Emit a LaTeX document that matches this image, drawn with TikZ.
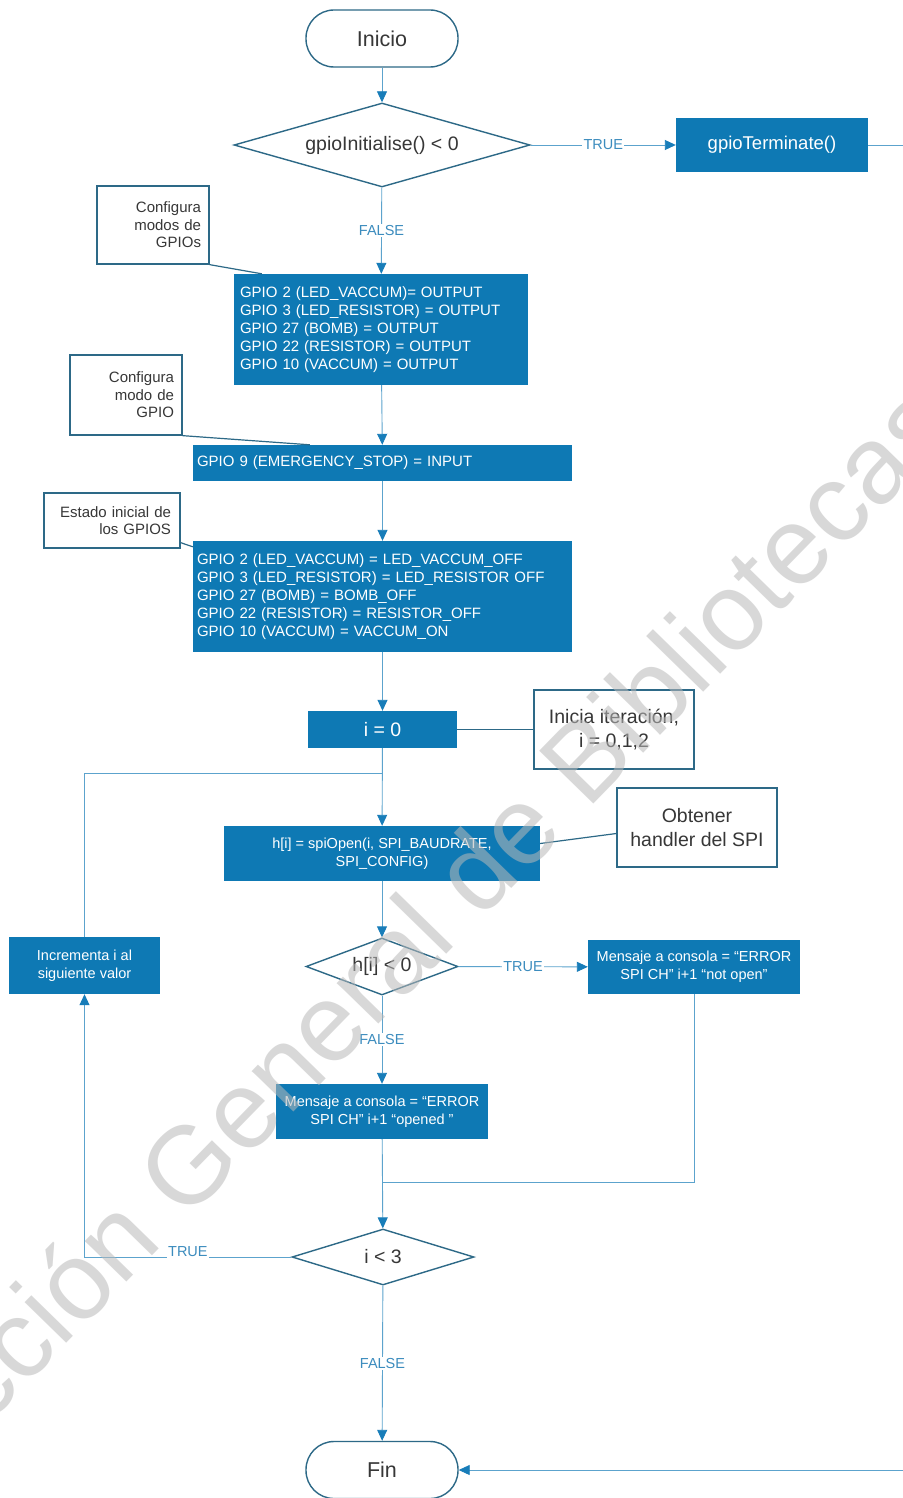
\documentclass[tikz,border=0pt]{standalone}
\usepackage{fontspec}
\setmainfont{Liberation Sans}
\usetikzlibrary{shapes.geometric,arrows.meta,calc}
\definecolor{boxblue}{RGB}{14,121,180}
\definecolor{linec}{RGB}{92,163,205}
\definecolor{tipc}{RGB}{24,125,185}
\definecolor{darkc}{RGB}{45,105,135}
\definecolor{lblc}{RGB}{60,140,190}
\definecolor{txtc}{RGB}{55,55,55}
\definecolor{wmc}{RGB}{185,185,185}
\tikzset{
 proc/.style={rectangle, fill=boxblue, text=white, inner sep=0pt, font=\fontsize{15}{18}\selectfont},
 term/.style={rectangle, rounded corners=28pt, draw=darkc, line width=1.4pt, fill=white, text=txtc, minimum width=152pt, minimum height=57pt, font=\fontsize{21.5}{24}\selectfont},
 dec/.style={diamond, draw=darkc, line width=1.4pt, fill=white, text=txtc, inner sep=0pt, font=\fontsize{19.5}{22}\selectfont},
 note/.style={rectangle, draw=darkc, line width=1.3pt, fill=white, text=txtc, inner sep=0pt, font=\fontsize{15}{17.5}\selectfont},
 bignote/.style={note, font=\fontsize{19.5}{24}\selectfont, align=center, minimum width=160pt, minimum height=79pt},
 conn/.style={draw=linec, line width=0.9pt},
 arr/.style={conn, -{Triangle[width=10pt,length=11pt,color=tipc]}},
 lbl/.style={fill=white, text=lblc, inner sep=1.5pt, font=\fontsize{14.5}{16}\selectfont},
 notelink/.style={draw=darkc, line width=1.2pt},
 wmark/.style={text=wmc, text opacity=0.55, inner sep=0pt},
}
\begin{document}
\begin{tikzpicture}[x=1pt,y=-1pt]
\useasboundingbox (0,0) rectangle (902,1498);
\fill[white] (0,0) rectangle (902,1498);

% main flow
\node[term] (inicio) at (382,38.5) {Inicio};
\node[dec, aspect=3.5, minimum width=296pt, minimum height=84pt] (d1) at (382,145) {gpioInitialise() < 0};
\node[proc, minimum width=192pt, minimum height=54pt, font=\fontsize{18.5}{22}\selectfont] (gpioT) at (772,145) {gpioTerminate()};
\node[proc, minimum width=294pt, minimum height=111pt, text width=282pt, align=left] (box1) at (381,329.5)
 {GPIO 2 (LED\_VACCUM)= OUTPUT\\GPIO 3 (LED\_RESISTOR) = OUTPUT\\GPIO 27 (BOMB) = OUTPUT\\GPIO 22 (RESISTOR) = OUTPUT\\GPIO 10 (VACCUM) = OUTPUT};
\node[proc, minimum width=379pt, minimum height=36pt, text width=371pt, align=left] (box2) at (382.5,463)
 {GPIO 9 (EMERGENCY\_STOP) = INPUT};
\node[proc, minimum width=379pt, minimum height=111pt, text width=371pt, align=left] (box3) at (382.5,596.5)
 {GPIO 2 (LED\_VACCUM) = LED\_VACCUM\_OFF\\GPIO 3 (LED\_RESISTOR) = LED\_RESISTOR OFF\\GPIO 27 (BOMB) = BOMB\_OFF\\GPIO 22 (RESISTOR) = RESISTOR\_OFF\\GPIO 10 (VACCUM) = VACCUM\_ON};
\node[proc, minimum width=149pt, minimum height=37pt, font=\fontsize{19.5}{22}\selectfont] (i0) at (382.5,729.5) {i = 0};
\node[proc, minimum width=316pt, minimum height=55pt, align=center, font=\fontsize{14.5}{18}\selectfont] (spi) at (382,853.5)
 {h[i] = spiOpen(i, SPI\_BAUDRATE,\\SPI\_CONFIG)};
\node[dec, aspect=2.67, minimum width=152pt, minimum height=57pt] (d2) at (382,966.5) {h[i] < 0};
\node[proc, minimum width=212pt, minimum height=54pt, align=center, font=\fontsize{14.5}{18}\selectfont] (notopen) at (694,967)
 {Mensaje a consola = “ERROR\\SPI CH” i+1 “not open”};
\node[proc, minimum width=212pt, minimum height=55pt, align=center, font=\fontsize{14.5}{18}\selectfont] (opened) at (382,1111.5)
 {Mensaje a consola = “ERROR\\SPI CH” i+1 “opened ”};
\node[dec, aspect=3.25, minimum width=182pt, minimum height=56pt] (d3) at (383,1257) {i < 3};
\node[proc, minimum width=151pt, minimum height=57pt, align=center, font=\fontsize{14.5}{18}\selectfont] (incr) at (84.5,965.5)
 {Incrementa i al\\siguiente valor};
\node[term] (fin) at (382,1470) {Fin};

% annotations
\node[note, minimum width=112pt, minimum height=78pt, text width=96pt, align=right] (a1) at (153,225) {Configura\\modos de\\GPIOs};
\node[note, minimum width=112pt, minimum height=80pt, text width=96pt, align=right] (a2) at (126,395) {Configura\\modo de\\GPIO};
\node[note, minimum width=136pt, minimum height=55pt, text width=118pt, align=right] (a3) at (112,520.5) {Estado inicial de\\los GPIOS};
\node[bignote] (a4) at (614,729.5) {Inicia iteración,\\i = 0,1,2};
\node[bignote] (a5) at (697,827.5) {Obtener\\handler del SPI};

% coordinates
\coordinate (j1) at (382,773);
\coordinate (j2) at (382,1182);
\coordinate (c1) at (84.5,1257);
\coordinate (r1) at (915,145);
\coordinate (r2) at (915,1470);

% connectors
\draw[arr] (inicio) -- (d1);
\draw[arr] (d1) -- node[lbl]{TRUE} (gpioT);
\draw[arr] (d1) -- node[lbl]{FALSE} (box1);
\draw[arr] (box1) -- (box2);
\draw[arr] (box2) -- (box3);
\draw[arr] (box3) -- (i0);
\draw[arr] (i0) -- (spi);
\draw[arr] (spi) -- (d2);
\draw[arr] (d2) -- node[lbl]{TRUE} (notopen);
\draw[arr] (d2) -- node[lbl]{FALSE} (opened);
\draw[arr] (opened) -- (d3);
\draw[conn] (notopen) |- (j2);
\draw[arr] (d3.west) -- node[lbl, yshift=5pt]{TRUE} (c1) -- (incr.south);
\draw[conn] (incr.north) |- (j1);
\draw[arr] (d3) -- node[lbl]{FALSE} (fin);
\draw[arr] (gpioT.east) -- (r1) -- (r2) -- (fin.east);

% annotation links
\draw[notelink] (a1.south east) -- ($(box1.north west)+(28,0)$);
\draw[notelink] (a2.south east) -- ($(box2.north west)+(117,0)$);
\draw[notelink] ($(a3.south east)+(0,-6)$) -- ($(box3.north west)+(0,6)$);
\draw[notelink] (i0.east) -- (a4.west);
\draw[notelink] ($(spi.east)+(0,-10)$) -- ($(a5.west)+(0,6)$);

% watermark
\node[wmark, rotate=45.7, font=\fontsize{110}{110}\selectfont] (wm) at (373,973) {Dirección General de Bibliotecas};
\end{tikzpicture}
\end{document}
